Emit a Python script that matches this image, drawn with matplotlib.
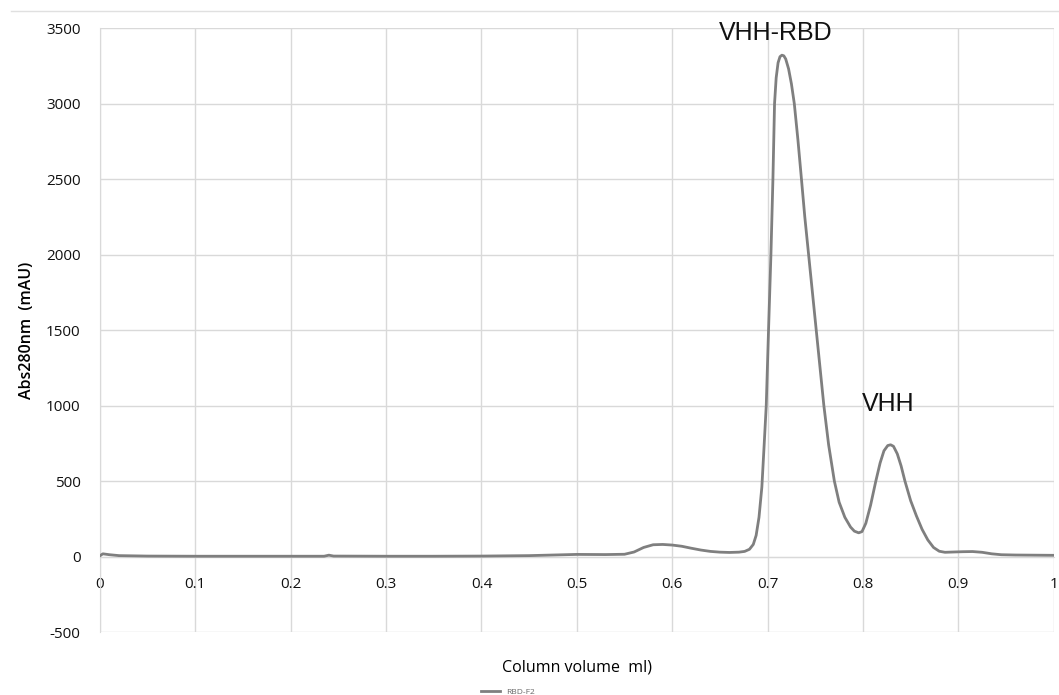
import matplotlib.pyplot as plt
from matplotlib.lines import Line2D

# elution profile
volume = [0.000, 0.003, 0.010, 0.020, 0.05, 0.10, 0.15, 0.20, 0.235, 0.240, 0.245,
          0.30, 0.35, 0.40, 0.45, 0.50, 0.53, 0.550, 0.560, 0.570, 0.580, 0.590,
          0.600, 0.610, 0.620, 0.630, 0.640, 0.650, 0.660, 0.670, 0.676, 0.681,
          0.685, 0.688, 0.691, 0.694, 0.6965, 0.6986, 0.701, 0.7035, 0.7056, 0.7073,
          0.709, 0.711, 0.713, 0.715, 0.717, 0.719, 0.722, 0.725, 0.728, 0.7318,
          0.7355, 0.739, 0.743, 0.747, 0.751, 0.755, 0.759, 0.764, 0.770, 0.775,
          0.781, 0.787, 0.791, 0.7955, 0.799, 0.803, 0.808, 0.8135, 0.818, 0.822,
          0.826, 0.829, 0.832, 0.836, 0.840, 0.844, 0.850, 0.856, 0.862, 0.868,
          0.874, 0.880, 0.886, 0.895, 0.905, 0.915, 0.925, 0.935, 0.945, 0.96,
          0.98, 1.00]
absorbance = [5, 18, 12, 6, 3, 2, 2, 2, 2, 9, 3,
              2, 2, 3, 6, 14, 13, 15, 30, 60, 78, 80,
              76, 68, 55, 43, 34, 29, 27, 29, 34, 48,
              80, 140, 260, 460, 750, 1000, 1500, 2000, 2500, 3000,
              3170, 3270, 3310, 3320, 3316, 3295, 3230, 3130, 3000, 2760,
              2500, 2250, 2000, 1750, 1500, 1250, 1000, 740, 500, 360,
              260, 195, 168, 157, 165, 220, 340, 500, 620, 700,
              735, 740, 730, 680, 600, 500, 370, 270, 180, 110,
              60, 35, 28, 30, 32, 33, 28, 18, 12, 10,
              9, 8]

x_ticks = [0, 0.1, 0.2, 0.3, 0.4, 0.5, 0.6, 0.7, 0.8, 0.9, 1]
x_labels = ['0', '0.1', '0.2', '0.3', '0.4', '0.5', '0.6', '0.7', '0.8', '0.9', '1']
y_ticks = [-500, 0, 500, 1000, 1500, 2000, 2500, 3000, 3500]

peak_labels = ['VHH-RBD', 'VHH']
peak_label_x = [0.709, 0.826]
peak_label_y = [3466, 1010]

plt.rcParams['font.family'] = ['Open Sans', 'DejaVu Sans']
plt.rcParams['axes.unicode_minus'] = False

fig = plt.figure(figsize=(10.59, 6.95), dpi=100)
ax = fig.add_axes([0.0944, 0.0906, 0.9006, 0.8691])

grid_col = '#d9d9d9'
ax.plot(volume, absorbance, color='#7f7f7f', lw=2, label='RBD-F2', zorder=3)

ax.set_xlim(0, 1)
ax.set_ylim(-500, 3500)
ax.set_xticks(x_ticks)
ax.set_xticklabels(x_labels)
ax.set_yticks(y_ticks)
ax.grid(True, color=grid_col, lw=1)
ax.set_axisbelow(True)

for side in ['top', 'right']:
    ax.spines[side].set_visible(False)
ax.spines['left'].set_color(grid_col)
ax.spines['bottom'].set_color(grid_col)
ax.spines['bottom'].set_position(('data', 0))
ax.tick_params(length=0, labelsize=11, colors='#111111')
ax.tick_params(axis='x', pad=15)
ax.tick_params(axis='y', pad=14)

ax.set_xlabel('Column volume  ml)', fontsize=11.5, color='#000000')
ax.xaxis.set_label_coords(0.5, -0.045)
ax.set_ylabel('Abs280nm  (mAU)', fontsize=11.5, color='#000000', fontweight='semibold')
ax.yaxis.set_label_coords(-0.068, 0.5)

for txt, tx, ty in zip(peak_labels, peak_label_x, peak_label_y):
    ax.text(tx, ty, txt, ha='center', va='center', fontsize=18,
            family=['Liberation Sans', 'DejaVu Sans'], color='#111111')

fig.legend(loc='lower center', bbox_to_anchor=(0.48, -0.012), frameon=False,
           fontsize=6, handlelength=2.2, labelcolor='#666666')

fig.add_artist(Line2D([0.01, 1.0], [0.984, 0.984], color='#e0e0e0', lw=1))

fig.savefig('out.png', dpi=100)
